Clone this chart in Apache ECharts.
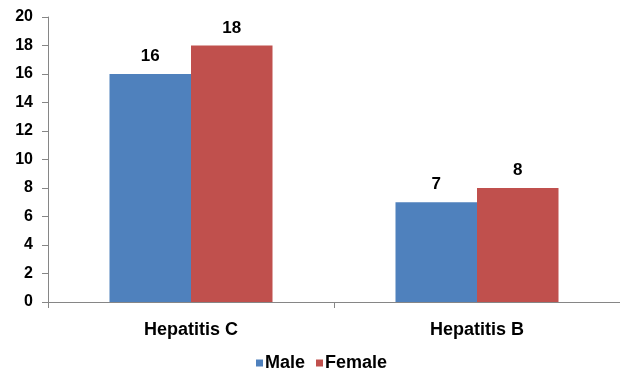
<!DOCTYPE html>
<html><head><meta charset="utf-8">
<script src="https://cdn.jsdelivr.net/npm/echarts@6/dist/echarts.min.js"></script>
<style>html,body{margin:0;padding:0;background:#fff}#c{width:620px;height:372px}</style>
</head><body><div id="c"></div>
<script>
const categories = ['Hepatitis C', 'Hepatitis B'];
const male = [16, 7];
const female = [18, 8];
const seriesNames = ['Male', 'Female'];

const font = 'Liberation Sans, Arial, sans-serif';
const chart = echarts.init(document.getElementById('c'));
const lbl = {show: true, position: 'top', distance: 9, fontFamily: font, fontWeight: 'bold', fontSize: 17, color: '#000'};
chart.setOption({
  animation: false,
  grid: {left: 48, top: 17, width: 577, bottom: 70, containLabel: false},
  legend: {
    data: seriesNames, left: 256, top: 354, padding: 0, itemGap: 11,
    itemWidth: 7, itemHeight: 7, icon: 'rect',
    textStyle: {fontFamily: font, fontWeight: 'bold', fontSize: 18, color: '#000', padding: [0, 0, 0, -3]}
  },
  xAxis: {
    type: 'category', data: categories,
    axisLine: {lineStyle: {color: '#868686', width: 1}},
    axisTick: {show: true, alignWithLabel: false, length: 6, lineStyle: {color: '#868686'}},
    axisLabel: {margin: 19, fontFamily: font, fontWeight: 'bold', fontSize: 18, color: '#000'}
  },
  yAxis: {
    type: 'value', min: 0, max: 20, interval: 2,
    axisLine: {show: true, lineStyle: {color: '#868686', width: 1}},
    axisTick: {show: true, length: 6, lineStyle: {color: '#868686'}},
    splitLine: {show: false},
    axisLabel: {margin: 15, fontFamily: font, fontWeight: 'bold', fontSize: 16, color: '#000'}
  },
  series: [
    {name: seriesNames[0], type: 'bar', data: male, barGap: '0%', barCategoryGap: '43%',
     itemStyle: {color: '#4F81BD'}, label: lbl},
    {name: seriesNames[1], type: 'bar', data: female,
     itemStyle: {color: '#C0504D'}, label: lbl}
  ]
});
</script></body></html>
